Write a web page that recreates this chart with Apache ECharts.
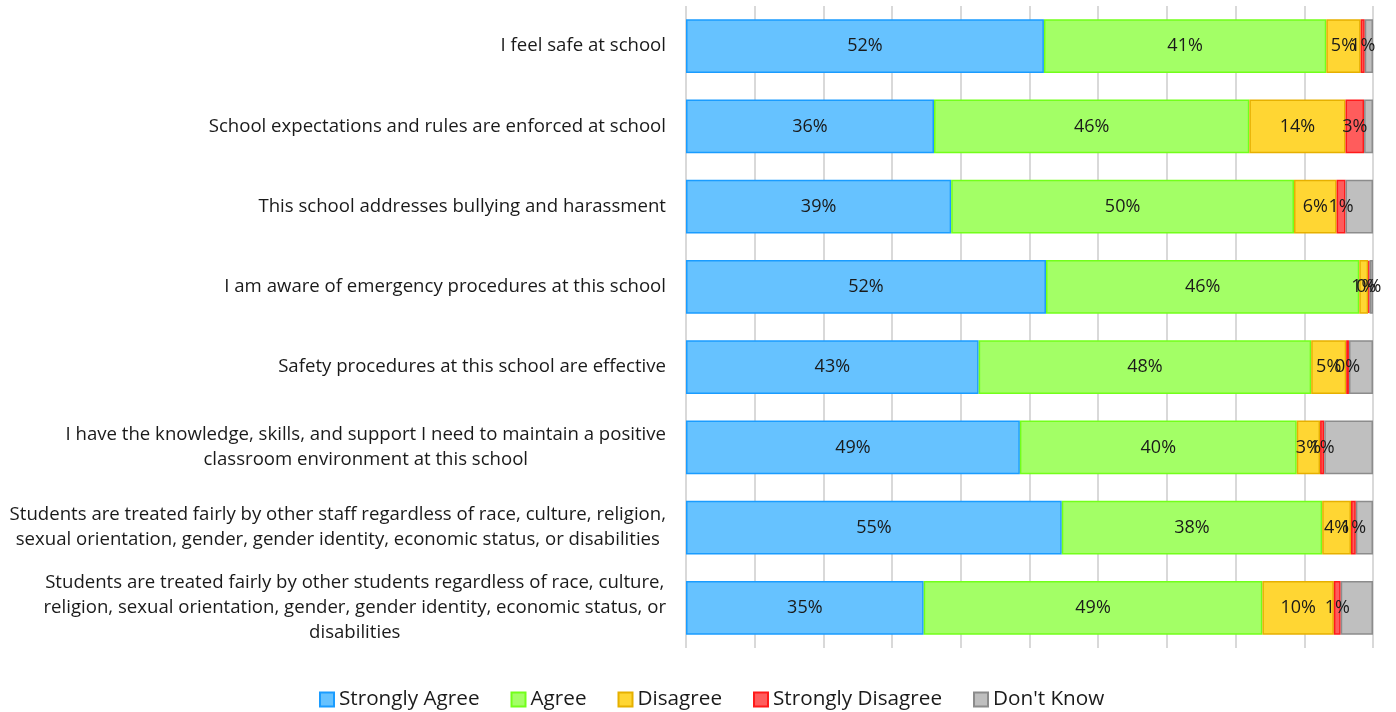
<!DOCTYPE html>
<html>
<head>
<meta charset="utf-8">
<script src="https://cdn.jsdelivr.net/npm/echarts@6/dist/echarts.min.js"></script>
<style>
html,body{margin:0;padding:0;background:#fff;}
#chart{width:1396px;height:712px;}
</style>
</head>
<body>
<div id="chart"></div>
<script>
var categories = [
  "I feel safe at school",
  "School expectations and rules are enforced at school",
  "This school addresses bullying and harassment",
  "I am aware of emergency procedures at this school",
  "Safety procedures at this school are effective",
  "I have the knowledge, skills, and support I need to maintain a positive\nclassroom environment at this school",
  "Students are treated fairly by other staff regardless of race, culture, religion,\nsexual orientation, gender, gender identity, economic status, or disabilities",
  "Students are treated fairly by other students regardless of race, culture,\nreligion, sexual orientation, gender, gender identity, economic status, or\ndisabilities"
];
var seriesNames = ["Strongly Agree", "Agree", "Disagree", "Strongly Disagree", "Don't Know"];
var stronglyAgree    = [52.1, 36.1, 38.6, 52.4, 42.6, 48.6, 54.7, 34.6];
var agree            = [41.1, 45.9, 49.9, 45.6, 48.4, 40.3, 37.9, 49.3];
var disagree         = [5.0, 14.0, 6.2, 1.3, 5.1, 3.4, 4.2, 10.4];
var stronglyDisagree = [0.6, 2.7, 1.3, 0.2, 0.4, 0.6, 0.7, 1.0];
var dontKnow         = [1.2, 1.3, 4.0, 0.5, 3.5, 7.1, 2.5, 4.7];

var values = [stronglyAgree, agree, disagree, stronglyDisagree, dontKnow];
var fills   = ["#66c2ff", "#a3ff66", "#ffd633", "#ff5c5c", "#bfbfbf"];
var borders = ["#1a9cff", "#73ff1a", "#e6b000", "#ff1a1a", "#8c8c8c"];
var showLabel = [true, true, true, true, false];

var FONT = "Open Sans";

var series = seriesNames.map(function (name, i) {
  return {
    name: name,
    type: "bar",
    stack: "total",
    barCategoryGap: "33%",
    data: values[i],
    itemStyle: { color: fills[i], borderColor: borders[i], borderWidth: 1.5 },
    label: {
      show: showLabel[i],
      position: "inside",
      color: "#1a1a1a",
      fontFamily: FONT,
      fontSize: 18,
      formatter: function (p) { return Math.round(p.value) + "%"; }
    },
    emphasis: { disabled: true }
  };
});

var chart = echarts.init(document.getElementById("chart"), null, { renderer: "canvas" });
chart.setOption({
  animation: false,
  textStyle: { fontFamily: FONT },
  grid: { left: 686, right: 23, top: 6, bottom: 64, containLabel: false },
  xAxis: {
    type: "value",
    min: 0,
    max: 100,
    interval: 10,
    axisLabel: { show: false },
    axisLine: { show: false },
    axisTick: { show: false },
    splitLine: { show: true, lineStyle: { color: "#d9d9d9", width: 2 } }
  },
  yAxis: {
    type: "category",
    inverse: true,
    data: categories,
    axisLine: { show: false },
    axisTick: { show: false },
    axisLabel: {
      margin: 20,
      align: "right",
      color: "#1a1a1a",
      fontFamily: FONT,
      fontSize: 18.6,
      lineHeight: 25,
      formatter: function (v) {
        return v.split("\n").map(function (l) { return "{c|" + l + "}"; }).join("\n");
      },
      rich: {
        c: { align: "center", fontFamily: FONT, fontSize: 18.6, lineHeight: 25, color: "#1a1a1a" }
      }
    }
  },
  legend: {
    top: 689,
    left: 319,
    padding: 0,
    icon: "rect",
    itemWidth: 14,
    itemHeight: 14,
    itemGap: 31,
    textStyle: { fontFamily: FONT, fontSize: 20.7, color: "#1a1a1a" },
    data: seriesNames
  },
  series: series
});
</script>
</body>
</html>
